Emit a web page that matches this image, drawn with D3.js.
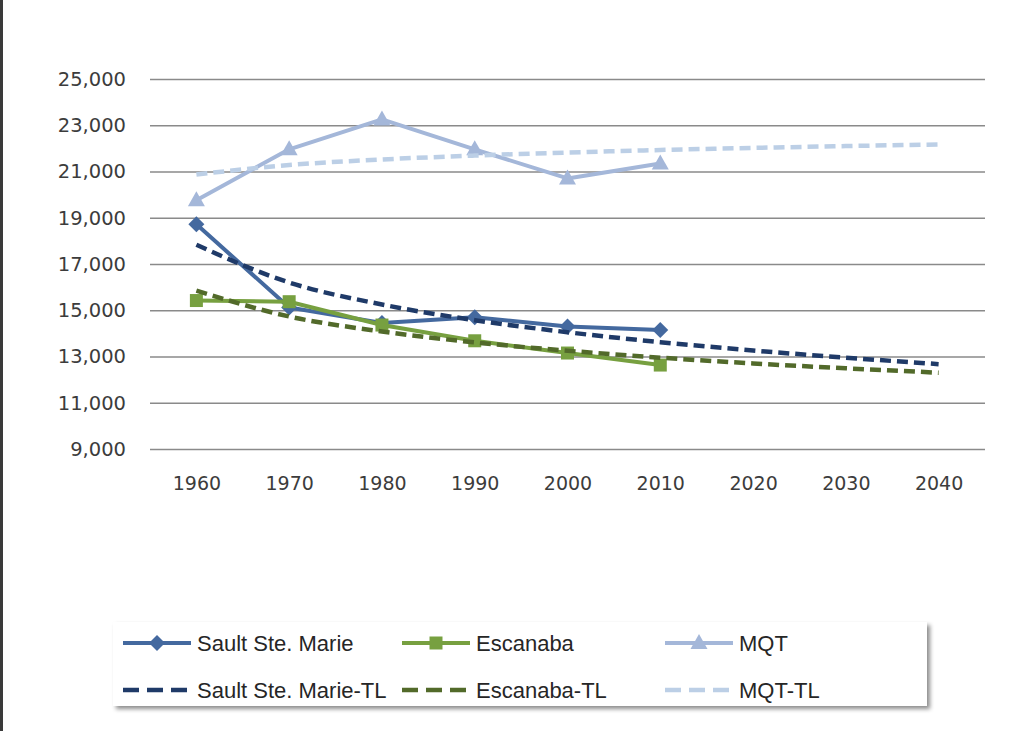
<!DOCTYPE html>
<html>
<head>
<meta charset="utf-8">
<script src="https://cdn.jsdelivr.net/npm/d3@7"></script>
<style>
  body { margin: 0; background: #fff; }
  svg { display: block; }
</style>
</head>
<body>
<script>
var w = 1026;
var h = 731;

// categories
var years = ['1960', '1970', '1980', '1990', '2000', '2010', '2020', '2030', '2040'];
var censusYears = years.slice(0, 6);

// census series
var sault = [18720, 15120, 14450, 14700, 14300, 14150];
var escanaba = [15420, 15370, 14360, 13680, 13150, 12630];
var mqt = [19760, 21960, 23250, 21960, 20700, 21350];

// trend lines (1960 - 2040)
var saultTL = [17830, 16200, 15250, 14570, 14050, 13620, 13260, 12950, 12670];
var escanabaTL = [15850, 14730, 14080, 13610, 13250, 12950, 12700, 12490, 12300];
var mqtTL = [20870, 21280, 21520, 21690, 21820, 21930, 22020, 22100, 22170];

var yTicks = [9000, 11000, 13000, 15000, 17000, 19000, 21000, 23000, 25000];

var diamond = 'M0,-8L8,0L0,8L-8,0Z';
var square = 'M-6.5,-6.5H6.5V6.5H-6.5Z';
var triangle = 'M0,-9L8.5,6L-8.5,6Z';

var series = [
	{ name: 'Sault Ste. Marie', values: sault, color: '#44699f', marker: diamond },
	{ name: 'Escanaba', values: escanaba, color: '#77a040', marker: square },
	{ name: 'MQT', values: mqt, color: '#a4b7d9', marker: triangle }
];
var trends = [
	{ name: 'Sault Ste. Marie-TL', values: saultTL, color: '#1f3a68' },
	{ name: 'Escanaba-TL', values: escanabaTL, color: '#526a2a' },
	{ name: 'MQT-TL', values: mqtTL, color: '#bccfe6' }
];

var scaleX = d3.scalePoint()
	.domain(years)
	.range([150, 985])
	.padding(0.5);

var scaleY = d3.scaleLinear()
	.domain([9000, 25000])
	.range([449, 79]);

var svg = d3.select('body').append('svg')
	.attr('width', w)
	.attr('height', h);

var defs = svg.append('defs');
defs.append('filter')
	.attr('id', 'shadow')
	.attr('x', '-5%').attr('y', '-20%')
	.attr('width', '112%').attr('height', '150%')
	.append('feDropShadow')
		.attr('dx', 3)
		.attr('dy', 3)
		.attr('stdDeviation', 2)
		.attr('flood-color', '#000')
		.attr('flood-opacity', 0.45);

// left frame edge
svg.append('rect')
	.attr('x', 0).attr('y', 0)
	.attr('width', 3).attr('height', h)
	.attr('fill', '#3a3a3a');

// gridlines
svg.append('g')
	.attr('transform', 'translate(985,0)')
	.call(d3.axisLeft(scaleY).tickValues(yTicks).tickSize(835).tickFormat(''))
	.call((g) => g.select('.domain').remove())
	.call((g) => g.selectAll('line').attr('stroke', '#8a8a8a').attr('stroke-width', 1.4));

// y labels
svg.append('g')
	.attr('transform', 'translate(150,0)')
	.call(d3.axisLeft(scaleY).tickValues(yTicks).tickSize(0).tickPadding(24).tickFormat(d3.format(',')))
	.call((g) => g.select('.domain').remove())
	.call((g) => g.selectAll('text')
		.attr('fill', '#3c3c3c')
		.style('font-family', 'DejaVu Sans, Verdana, sans-serif')
		.style('font-size', '19.5px'));

// x labels
svg.append('g')
	.attr('transform', 'translate(0,449)')
	.call(d3.axisBottom(scaleX).tickSize(0).tickPadding(28))
	.call((g) => g.select('.domain').remove())
	.call((g) => g.selectAll('text')
		.attr('fill', '#3c3c3c')
		.style('font-family', 'DejaVu Sans, Verdana, sans-serif')
		.style('font-size', '19px'));

var line = d3.line()
	.x((d, i) => scaleX(years[i]))
	.y((d) => scaleY(d));

var trendLine = d3.line()
	.x((d, i) => scaleX(years[i]))
	.y((d) => scaleY(d))
	.curve(d3.curveMonotoneX);

series.forEach((s) => {
	svg.append('path')
		.datum(s.values)
		.attr('d', line)
		.attr('fill', 'none')
		.attr('stroke', s.color)
		.attr('stroke-width', 4)
		.attr('stroke-linejoin', 'round');

	svg.append('g').selectAll('path')
		.data(s.values)
		.join('path')
			.attr('transform', (d, i) => 'translate(' + scaleX(censusYears[i]) + ',' + scaleY(d) + ')')
			.attr('d', s.marker)
			.attr('fill', s.color);
});

trends.forEach((t) => {
	svg.append('path')
		.datum(t.values)
		.attr('d', trendLine)
		.attr('fill', 'none')
		.attr('stroke', t.color)
		.attr('stroke-width', 4.5)
		.attr('stroke-dasharray', '11,6');
});

// legend
var legend = svg.append('g');
legend.append('rect')
	.attr('x', 113).attr('y', 622)
	.attr('width', 814).attr('height', 84)
	.attr('fill', '#fff')
	.attr('filter', 'url(#shadow)');

var cols = [123, 402, 665];
var rows = [643, 690];

series.forEach((s, i) => {
	var g = legend.append('g').attr('transform', 'translate(' + cols[i] + ',' + rows[0] + ')');
	g.append('line')
		.attr('x1', 0).attr('x2', 68)
		.attr('stroke', s.color)
		.attr('stroke-width', 4);
	g.append('path')
		.attr('transform', 'translate(34,0)')
		.attr('d', s.marker)
		.attr('fill', s.color);
	g.append('text')
		.attr('x', 74)
		.attr('dy', '0.35em')
		.attr('fill', '#262626')
		.style('font-family', 'Liberation Sans, Arial, sans-serif')
		.style('font-size', '22px')
		.text(s.name);
});

trends.forEach((t, i) => {
	var g = legend.append('g').attr('transform', 'translate(' + cols[i] + ',' + rows[1] + ')');
	g.append('line')
		.attr('x1', 0).attr('x2', 65)
		.attr('stroke', t.color)
		.attr('stroke-width', 4.5)
		.attr('stroke-dasharray', '16,8');
	g.append('text')
		.attr('x', 74)
		.attr('dy', '0.35em')
		.attr('fill', '#262626')
		.style('font-family', 'Liberation Sans, Arial, sans-serif')
		.style('font-size', '22px')
		.text(t.name);
});
</script>
</body>
</html>
